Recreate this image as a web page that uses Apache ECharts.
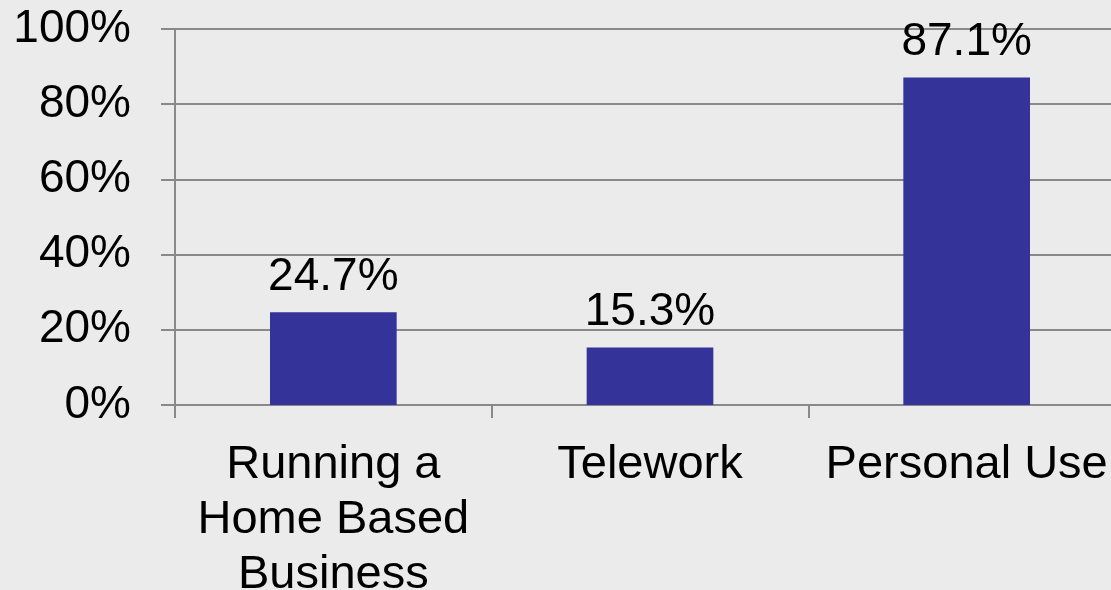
<!DOCTYPE html>
<html>
<head>
<meta charset="utf-8">
<script src="https://cdn.jsdelivr.net/npm/echarts@6/dist/echarts.min.js"></script>
<style>
  html, body { margin: 0; padding: 0; background: #ebebeb; }
  #chart { width: 1111px; height: 590px; }
</style>
</head>
<body>
<div id="chart"></div>
<script>
const categories = ['Running a\nHome Based\nBusiness', 'Telework', 'Personal Use'];
const shares = [24.7, 15.3, 87.1];
const yTicks = [0, 20, 40, 60, 80, 100];

const chart = echarts.init(document.getElementById('chart'));
const font = 'Liberation Sans, Arial, sans-serif';

chart.setOption({
    backgroundColor: '#ebebeb',
    animation: false,
    grid: { left: 175, top: 29, width: 950, height: 376, outerBoundsMode: 'none', containLabel: false },
    xAxis: {
        type: 'category',
        data: categories,
        axisLine: { lineStyle: { color: '#898989', width: 2 } },
        axisTick: { show: true, length: 13, lineStyle: { color: '#898989', width: 2 } },
        axisLabel: {
            color: '#000',
            fontFamily: font,
            fontSize: 47,
            lineHeight: 55,
            margin: 33,
            interval: 0
        }
    },
    yAxis: {
        type: 'value',
        min: yTicks[0],
        max: yTicks[yTicks.length - 1],
        interval: 20,
        axisLine: { show: true, lineStyle: { color: '#898989', width: 2 } },
        axisTick: { show: true, length: 14, lineStyle: { color: '#898989', width: 2 } },
        splitLine: { lineStyle: { color: '#898989', width: 2 } },
        axisLabel: {
            color: '#000',
            fontFamily: font,
            fontSize: 46,
            margin: 44,
            formatter: v => v + '%'
        }
    },
    series: [{
        type: 'bar',
        data: shares,
        barWidth: '40%',
        itemStyle: { color: '#333399' },
        label: {
            show: true,
            position: 'top',
            distance: 12,
            color: '#000',
            fontFamily: font,
            fontSize: 46,
            formatter: p => p.value.toFixed(1) + '%'
        }
    }]
});
</script>
</body>
</html>
